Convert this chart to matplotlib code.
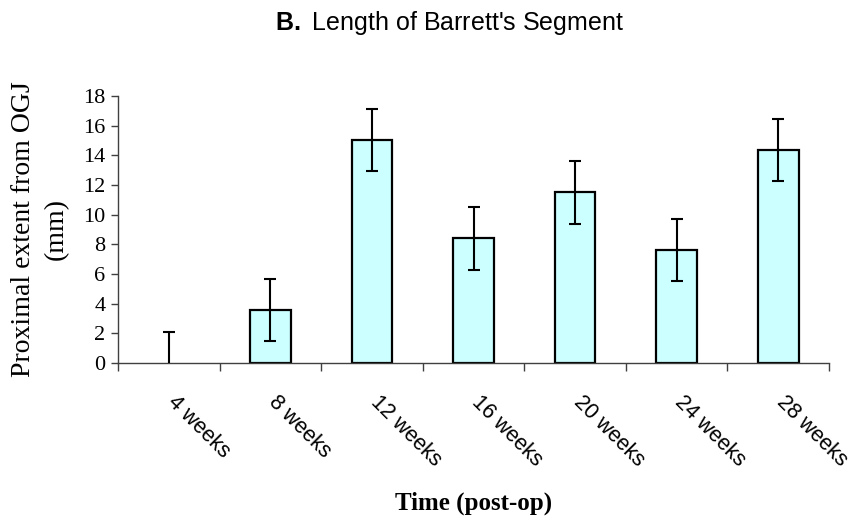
import matplotlib
matplotlib.use("Agg")
import matplotlib.pyplot as plt
import numpy as np

categories = ["4 weeks", "8 weeks", "12 weeks", "16 weeks", "20 weeks", "24 weeks", "28 weeks"]
means = [0.0, 3.55, 15.05, 8.4, 11.5, 7.62, 14.38]
errors = [2.1, 2.1, 2.1, 2.1, 2.1, 2.1, 2.1]
y_ticks = [0, 2, 4, 6, 8, 10, 12, 14, 16, 18]

plt.rcParams["mathtext.fontset"] = "custom"
plt.rcParams["mathtext.rm"] = "Liberation Sans"
plt.rcParams["mathtext.bf"] = "Liberation Sans:bold"

fig = plt.figure(figsize=(8.55, 5.23), dpi=100)
ax = fig.add_axes([118 / 855, 1 - 363 / 523, (829 - 118) / 855, (363 - 96) / 523])

x = np.arange(len(categories))
edge_widths = [0 if m == 0 else 1.6 for m in means]
ax.bar(x, means, width=0.4, color="#CCFFFF", edgecolor="black", linewidth=edge_widths, zorder=2)
ax.errorbar(x, means, yerr=errors, fmt="none", ecolor="black", elinewidth=1.5,
            capsize=4, capthick=1.5, zorder=3)

ax.set_xlim(-0.5, len(categories) - 0.5)
ax.set_ylim(0, 18)
ax.set_yticks(y_ticks)
ax.set_yticklabels([str(v) for v in y_ticks], fontfamily="Liberation Serif", fontsize=16)

# boundary ticks between categories; rotated labels start just right of each centre
ax.set_xticks(np.arange(-0.5, len(categories), 1.0))
ax.set_xticklabels([])
label_anchor = 0.09
ax.set_xticks(x + label_anchor, minor=True)
ax.set_xticklabels(categories, minor=True, rotation=-45, ha="left", va="top",
                   rotation_mode="anchor", fontfamily="Liberation Sans", fontsize=15.5)
ax.tick_params(axis="x", which="minor", length=0, pad=21)
ax.tick_params(axis="x", which="major", length=6, width=1, color="#404040", direction="out")
ax.tick_params(axis="y", length=5, width=1, color="#404040", direction="out", pad=4)

for side in ("top", "right"):
    ax.spines[side].set_visible(False)
for side in ("left", "bottom"):
    ax.spines[side].set_color("#404040")
    ax.spines[side].set_linewidth(1)

ax.set_ylabel("Proximal extent from OGJ\n(mm)", fontfamily="Liberation Serif", fontsize=20,
              linespacing=1.45)
ax.yaxis.set_label_coords(-(118 - 40) / 711, (363 - 229) / 267)
ax.yaxis.label.set_va("center")
ax.set_xlabel("Time (post-op)", fontfamily="Liberation Serif", fontsize=18, fontweight="bold")
ax.xaxis.set_label_coords(0.5, -(503 - 363) / 267)
ax.xaxis.label.set_va("center")

fig.text(450 / 855, 1 - 23 / 523, r"$\mathbf{B.}$ Length of Barrett's Segment",
         ha="center", va="center", fontfamily="Liberation Sans", fontsize=18)

fig.savefig("out.png", dpi=100)
